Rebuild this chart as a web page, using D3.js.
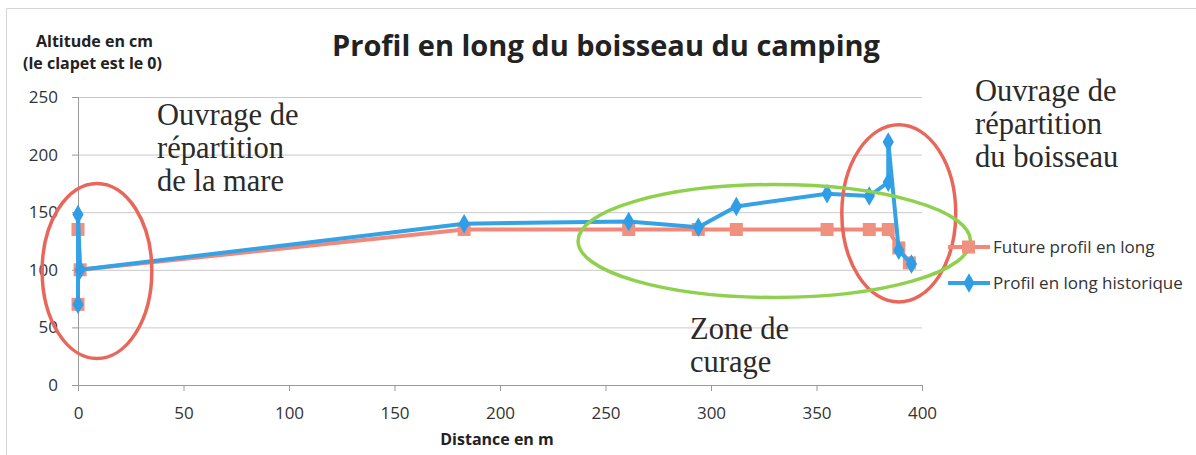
<!DOCTYPE html>
<html>
<head>
<meta charset="utf-8">
<script src="https://cdn.jsdelivr.net/npm/d3@7"></script>
<style>
  body { margin: 0; background: #fff; }
  svg { display: block; }
</style>
</head>
<body>
<div id="chart"></div>
<script>
// Series: [distance en m, altitude en cm]
const futureProfile = [[0, 70], [0, 135], [1, 100], [183, 135], [261, 135], [294, 135], [312, 135], [355, 135], [375, 135], [384, 135], [389, 119], [394, 106]];
const historicProfile = [[0, 70], [0, 148], [1, 100], [183, 140], [261, 142], [294, 137], [312, 155], [355, 166], [375, 164], [384, 176], [384, 211], [389, 117], [395, 105]];
const xTicks = [0, 50, 100, 150, 200, 250, 300, 350, 400];
const yTicks = [0, 50, 100, 150, 200, 250];
const seriesNames = ['Future profil en long', 'Profil en long historique'];

// Annotations (ellipses in data units) and their labels
const ellipses = [
  { cx: 9, cy: 99, rx: 26, ry: 76, color: '#e8675a' },
  { cx: 389, cy: 149, rx: 27, ry: 77, color: '#e8675a' },
  { cx: 330, cy: 125, rx: 93, ry: 49, color: '#8fd14f' }
];
const notes = [
  { lines: ['Ouvrage de', 'répartition', 'de la mare'], x: 157, y: 125 },
  { lines: ['Ouvrage de', 'répartition', 'du boisseau'], x: 975, y: 101 },
  { lines: ['Zone de', 'curage'], x: 690, y: 339 }
];

let margin = { top: 97, right: 274, bottom: 70, left: 78 },
    W = 1196, H = 455,
    width = W - margin.left - margin.right,
    height = H - margin.top - margin.bottom;

let x = d3.scaleLinear().domain([0, 400]).range([0, width]);
let y = d3.scaleLinear().domain([0, 250]).range([height, 0]);

let svg = d3.select('#chart').append('svg')
    .attr('width', W).attr('height', H);

// outer frame
svg.append('path')
    .attr('d', 'M6.5,' + H + 'V8.5H' + W)
    .attr('fill', 'none').attr('stroke', '#d4d4d4');

let g = svg.append('g')
    .attr('transform', 'translate(' + margin.left + ',' + margin.top + ')');

// gridlines
g.selectAll('.grid').data(yTicks.slice(1)).enter().append('line')
    .attr('x1', 0).attr('x2', width)
    .attr('y1', d => y(d) + 0.5).attr('y2', d => y(d) + 0.5)
    .attr('stroke', '#c9c9c9').attr('stroke-width', 1);

// axes
let xAxis = g.append('g')
    .attr('transform', 'translate(0,' + height + ')')
    .call(d3.axisBottom(x).tickValues(xTicks).tickSize(6).tickPadding(16));
let yAxis = g.append('g')
    .call(d3.axisLeft(y).tickValues(yTicks).tickSize(6).tickPadding(14));
[xAxis, yAxis].forEach(a => {
  a.select('.domain').attr('stroke', '#9a9a9a');
  a.selectAll('.tick line').attr('stroke', '#9a9a9a');
  a.selectAll('.tick text')
      .attr('font-family', '"Liberation Sans Narrow", "Open Sans", sans-serif')
      .attr('font-size', 17).attr('fill', '#333');
});

// series
let line = d3.line().x(d => x(d[0])).y(d => y(d[1]));

g.append('path').datum(futureProfile)
    .attr('d', line).attr('fill', 'none')
    .attr('stroke', '#f2887a').attr('stroke-width', 4);
g.selectAll('.sq').data(futureProfile).enter().append('rect')
    .attr('x', d => x(d[0]) - 6.5).attr('y', d => y(d[1]) - 6.5)
    .attr('width', 13).attr('height', 13).attr('fill', '#f0907f');

let diamond = d3.symbol().type(d3.symbolDiamond).size(110);
g.append('path').datum(historicProfile)
    .attr('d', line).attr('fill', 'none')
    .attr('stroke', '#34a2e4').attr('stroke-width', 4);
g.selectAll('.dm').data(historicProfile).enter().append('path')
    .attr('d', diamond)
    .attr('transform', d => 'translate(' + x(d[0]) + ',' + y(d[1]) + ')')
    .attr('fill', '#2f9ee6');

// ellipses
g.selectAll('.ell').data(ellipses).enter().append('ellipse')
    .attr('cx', d => x(d.cx)).attr('cy', d => y(d.cy))
    .attr('rx', d => x(d.rx) - x(0)).attr('ry', d => y(0) - y(d.ry))
    .attr('fill', 'none').attr('stroke', d => d.color).attr('stroke-width', 3.5);

// annotation labels
notes.forEach(n => {
  let t = svg.append('text')
      .attr('font-family', '"Liberation Serif", "Times New Roman", serif')
      .attr('font-size', 30.5).attr('fill', '#2a2a2a');
  n.lines.forEach((l, i) => {
    t.append('tspan').attr('x', n.x).attr('y', n.y + i * 33).text(l);
  });
});

// legend
let legend = svg.append('g').attr('transform', 'translate(948,247)');
let lg = legend.selectAll('g').data(seriesNames).enter().append('g')
    .attr('transform', (d, i) => 'translate(0,' + i * 36 + ')');
lg.append('line').attr('x1', 0).attr('x2', 42)
    .attr('stroke', (d, i) => i ? '#34a2e4' : '#f2887a').attr('stroke-width', 4);
lg.each(function (d, i) {
  let s = d3.select(this);
  if (i === 0) {
    s.append('rect').attr('x', 14).attr('y', -6.5).attr('width', 13).attr('height', 13).attr('fill', '#f0907f');
  } else {
    s.append('path').attr('d', diamond).attr('transform', 'translate(21,0)').attr('fill', '#2f9ee6');
  }
});
lg.append('text').attr('x', 45).attr('dy', '0.35em')
    .attr('font-family', '"Open Sans", sans-serif').attr('font-size', 17)
    .attr('fill', '#333').text(d => d);

// titles
svg.append('text')
    .attr('x', 606).attr('y', 56).attr('text-anchor', 'middle')
    .attr('font-family', '"Open Sans", sans-serif').attr('font-weight', 'bold')
    .attr('font-size', 29).attr('fill', '#222')
    .text('Profil en long du boisseau du camping');

svg.append('text')
    .attr('font-family', '"Open Sans", sans-serif').attr('font-weight', 'bold')
    .attr('font-size', 16).attr('fill', '#222')
    .selectAll('tspan').data(['Altitude en cm', '(le clapet est le 0)']).enter()
    .append('tspan').attr('x', (d, i) => i ? 23 : 36).attr('y', (d, i) => 47 + i * 22).text(d => d);

svg.append('text')
    .attr('x', 497).attr('y', 445).attr('text-anchor', 'middle')
    .attr('font-family', '"Liberation Sans Narrow", "Open Sans", sans-serif').attr('font-weight', 'bold')
    .attr('font-size', 16).attr('fill', '#222')
    .text('Distance  en m');
</script>
</body>
</html>
